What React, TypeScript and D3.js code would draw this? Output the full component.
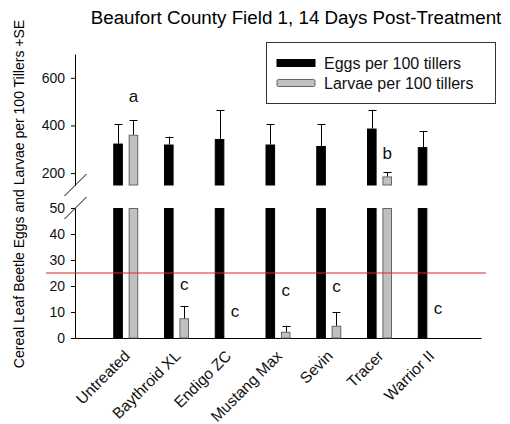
import { useEffect, useRef } from 'react';
import * as d3 from 'd3';

const categories = ['Untreated', 'Baythroid XL', 'Endigo ZC', 'Mustang Max', 'Sevin', 'Tracer', 'Warrior II'];
const eggs = [324, 320, 343, 320, 314, 387, 309];
const eggsSE = [81, 33, 122, 85, 91, 79, 67];
const larvae = [361, 7.6, 0, 2.4, 4.7, 186, 0];
const larvaeSE = [61, 4.6, 0, 2.3, 5.3, 18, 0];
const letters = ['a', 'c', 'c', 'c', 'c', 'b', 'c'];
const letterAt = [500, 18.3, 8, 16, 17.8, 261, 9.2];
const seriesNames = ['Eggs per 100 tillers', 'Larvae per 100 tillers'];
const lowerTicks = [0, 10, 20, 30, 40, 50];
const upperTicks = [200, 400, 600];
const threshold = 25;

const W = 510;
const H = 424;
const FONT = '"Liberation Sans", Arial, sans-serif';

export default function App() {
  const svgRef = useRef<SVGSVGElement>(null);

  useEffect(() => {
    if (!svgRef.current) return;
    const svg = d3.select(svgRef.current);
    svg.selectAll('*').remove();

    // scales: broken y axis, two segments
    const x = d3.scaleBand<string>().domain(categories).range([75, 481]).paddingInner(0).paddingOuter(0.5);
    const sub = d3.scaleBand<number>().domain([0, 1]).range([-12.5, 12.5]).paddingInner(0.377).paddingOuter(0);
    const yLow = d3.scaleLinear().domain([0, 50]).range([338, 208]);
    const yHigh = d3.scaleLinear().domain([150, 700]).range([185, 54]);
    const yAny = (v: number) => (v <= 50 ? yLow(v) : yHigh(v));

    const g = svg.append('g').style('font-family', FONT);

    // title
    g.append('text')
      .attr('x', 296)
      .attr('y', 24)
      .attr('text-anchor', 'middle')
      .style('font-size', '18.8px')
      .text('Beaufort County Field 1, 14 Days Post-Treatment');

    // y label
    g.append('text')
      .attr('transform', `translate(24, 194) rotate(-90)`)
      .attr('text-anchor', 'middle')
      .style('font-size', '14px')
      .text('Cereal Leaf Beetle Eggs and Larvae per 100 Tillers +SE');

    // axes
    const axLow = g.append('g').attr('transform', 'translate(75,0)')
      .call(d3.axisLeft(yLow).tickValues(lowerTicks).tickSize(4).tickSizeOuter(0).tickPadding(6));
    const axHigh = g.append('g').attr('transform', 'translate(75,0)')
      .call(d3.axisLeft(yHigh).tickValues(upperTicks).tickSize(4).tickSizeOuter(0).tickPadding(6));
    [axLow, axHigh].forEach(a => {
      a.selectAll('text').style('font-size', '14px').style('font-family', FONT).attr('fill', '#111');
      a.selectAll('path,line').attr('stroke', '#000');
    });

    // break marks
    [yHigh(150), yLow(50)].forEach(yy => {
      g.append('line')
        .attr('x1', 64.5).attr('y1', yy + 11)
        .attr('x2', 86.5).attr('y2', yy - 11)
        .attr('stroke', '#000').attr('stroke-width', 1);
    });

    // x axis
    const axX = g.append('g').attr('transform', 'translate(0,338)')
      .call(d3.axisBottom(x).tickSize(0).tickSizeOuter(0).tickPadding(0));
    axX.select('path').attr('stroke', '#000');
    axX.selectAll('.tick text')
      .attr('text-anchor', 'end')
      .attr('transform', 'translate(5,19) rotate(-45)')
      .attr('dy', '0')
      .attr('y', 0)
      .attr('fill', '#111')
      .style('font-size', '15.5px')
      .style('font-family', FONT);

    const series = [
      { vals: eggs, se: eggsSE, fill: '#000', stroke: '#000' },
      { vals: larvae, se: larvaeSE, fill: '#c0c0c0', stroke: '#666' },
    ];

    series.forEach((s, si) => {
      s.vals.forEach((v, i) => {
        if (v <= 0) return;
        const bx = (x(categories[i]) as number) + x.bandwidth() / 2 + (sub(si) as number);
        const bw = sub.bandwidth();
        const segs: [number, number][] = [[yLow(Math.min(v, 50)), yLow(0)]];
        if (v > 150) segs.push([yHigh(v), yHigh(150)]);
        segs.forEach(([top, bot]) => {
          g.append('rect')
            .attr('x', bx + 0.5).attr('y', top + 0.5)
            .attr('width', bw - 1).attr('height', Math.max(0, bot - top - 0.5))
            .attr('fill', s.fill).attr('stroke', s.stroke).attr('stroke-width', 1);
        });
        // error bar (upper side only)
        const se = s.se[i];
        if (se > 0) {
          const cx = Math.round(bx + bw / 2) + 0.5;
          const yTop = yAny(v + se);
          g.append('line')
            .attr('x1', cx).attr('x2', cx)
            .attr('y1', yAny(v)).attr('y2', yTop)
            .attr('stroke', '#000');
          g.append('line')
            .attr('x1', cx - 4).attr('x2', cx + 4)
            .attr('y1', Math.round(yTop) + 0.5).attr('y2', Math.round(yTop) + 0.5)
            .attr('stroke', '#000');
        }
      });
    });

    // significance letters
    letters.forEach((l, i) => {
      g.append('text')
        .attr('x', (x(categories[i]) as number) + x.bandwidth() / 2 + (sub(1) as number) + sub.bandwidth() / 2)
        .attr('y', yAny(letterAt[i]))
        .attr('text-anchor', 'middle')
        .style('font-size', '17px')
        .attr('fill', '#111')
        .text(l);
    });

    // threshold line
    g.append('line')
      .attr('x1', 46).attr('x2', 486)
      .attr('y1', yLow(threshold)).attr('y2', yLow(threshold))
      .attr('stroke', '#e02424').attr('stroke-width', 1.2);

    // legend
    const lg = g.append('g').attr('transform', 'translate(266,42)');
    lg.append('rect')
      .attr('x', 0.5).attr('y', 0.5).attr('width', 229).attr('height', 61)
      .attr('fill', '#fff').attr('stroke', '#333');
    seriesNames.forEach((name, i) => {
      const s = series[i];
      lg.append('rect')
        .attr('x', 11).attr('y', 17.5 + i * 20)
        .attr('width', 38).attr('height', 7)
        .attr('rx', i === 1 ? 1.5 : 0)
        .attr('fill', s.fill).attr('stroke', s.stroke);
      lg.append('text')
        .attr('x', 58).attr('y', 26.5 + i * 20)
        .style('font-size', '16px')
        .attr('fill', '#111')
        .text(name);
    });
  }, []);

  return (
    <svg
      ref={svgRef}
      width={W}
      height={H}
      style={{ position: 'absolute', left: 0, top: 0, background: '#fff' }}
    />
  );
}
